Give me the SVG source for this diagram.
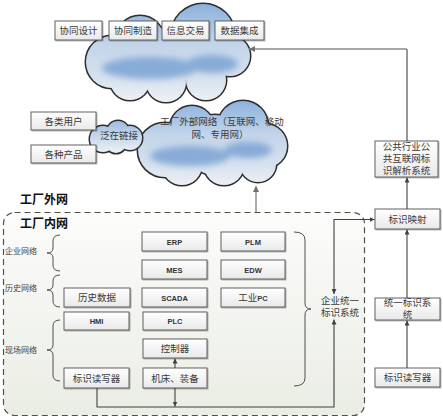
<svg xmlns="http://www.w3.org/2000/svg" width="443" height="419" viewBox="0 0 443 419">
<defs>
<style>
.box{fill:url(#gBox);stroke:#505050;stroke-width:0.9;filter:url(#sh)}
.t{font-family:"Noto Sans CJK SC","Noto Sans",sans-serif;font-size:9.5px;fill:#3a3a3a;text-anchor:middle}
.e{font-family:"Liberation Sans","DejaVu Sans",sans-serif;font-size:7.5px;font-weight:bold;fill:#333;text-anchor:middle}
.lab{font-family:"Noto Sans CJK SC",sans-serif;font-size:8px;fill:#444}
.hd{font-family:"Noto Sans CJK SC",sans-serif;font-size:12px;font-weight:bold;fill:#111}
.ln{fill:none;stroke:#404040;stroke-width:1.1}
.lg{fill:none;stroke:#8a8a8a;stroke-width:1.4}
.br{fill:none;stroke:#505050;stroke-width:1}
.ol{fill:#2e2e2e;stroke:#2e2e2e;stroke-width:3}
</style>
<linearGradient id="gBox" x1="0" y1="0" x2="0" y2="1"><stop offset="0" stop-color="#ffffff"/><stop offset="1" stop-color="#e9e9e9"/></linearGradient>
<linearGradient id="gBg" x1="0" y1="0" x2="0" y2="1"><stop offset="0" stop-color="#fcfcfb"/><stop offset="1" stop-color="#eaede4"/></linearGradient>
<linearGradient id="gC1" gradientUnits="userSpaceOnUse" x1="0" y1="4" x2="0" y2="102"><stop offset="0" stop-color="#8cb1dc"/><stop offset="0.4" stop-color="#c2d4ea"/><stop offset="0.75" stop-color="#d6e1ee"/><stop offset="1" stop-color="#eef1f5"/></linearGradient>
<linearGradient id="gC2" gradientUnits="userSpaceOnUse" x1="0" y1="100" x2="0" y2="186"><stop offset="0" stop-color="#8cb1dc"/><stop offset="0.4" stop-color="#c2d4ea"/><stop offset="0.75" stop-color="#d6e1ee"/><stop offset="1" stop-color="#eef1f5"/></linearGradient>
<linearGradient id="gC3" gradientUnits="userSpaceOnUse" x1="0" y1="120" x2="0" y2="153"><stop offset="0" stop-color="#9ab9df"/><stop offset="0.5" stop-color="#c7d7eb"/><stop offset="1" stop-color="#eef1f5"/></linearGradient>
<filter id="sh" x="-10%" y="-10%" width="130%" height="140%"><feDropShadow dx="1" dy="1" stdDeviation="0.6" flood-color="#000" flood-opacity="0.3"/></filter>
<filter id="bl" x="-30%" y="-50%" width="160%" height="200%"><feGaussianBlur stdDeviation="3"/></filter>
<marker id="ar" viewBox="0 0 10 10" refX="10" refY="5" markerWidth="5" markerHeight="5" markerUnits="userSpaceOnUse" orient="auto-start-reverse"><path d="M0,0 L10,5 L0,10 z" fill="#404040"/></marker>
<marker id="ag" viewBox="0 0 10 10" refX="10" refY="5" markerWidth="6" markerHeight="6" markerUnits="userSpaceOnUse" orient="auto-start-reverse"><path d="M0,0 L10,5 L0,10 z" fill="#707070"/></marker>
</defs>

<!-- factory inner network frame -->
<g id="frame">
<rect x="3.5" y="212.5" width="361" height="203" rx="11" fill="url(#gBg)" stroke="#505050" stroke-width="1.2" stroke-dasharray="6,4"/>
</g>

<!-- clouds -->
<g id="cloud-top">
<g class="ol"><circle cx="112" cy="62" r="26"/><circle cx="140" cy="40" r="24"/><circle cx="203" cy="36" r="32"/><circle cx="230" cy="56" r="20"/><circle cx="130" cy="80" r="20"/><circle cx="166" cy="82" r="20"/><circle cx="206" cy="80" r="20"/><circle cx="165" cy="58" r="30"/></g>
<g fill="url(#gC1)"><circle cx="112" cy="62" r="26"/><circle cx="140" cy="40" r="24"/><circle cx="203" cy="36" r="32"/><circle cx="230" cy="56" r="20"/><circle cx="130" cy="80" r="20"/><circle cx="166" cy="82" r="20"/><circle cx="206" cy="80" r="20"/><circle cx="165" cy="58" r="30"/></g>
<g fill="#6f9bd0" opacity="0.75" filter="url(#bl)"><ellipse cx="150" cy="68" rx="48" ry="11"/><ellipse cx="212" cy="64" rx="26" ry="9"/></g>
</g>

<g id="cloud-ext">
<g class="ol"><circle cx="165" cy="150" r="27"/><circle cx="192" cy="128" r="22"/><circle cx="243" cy="126" r="25"/><circle cx="265" cy="146" r="22"/><circle cx="182" cy="165" r="20"/><circle cx="224" cy="165" r="20"/><circle cx="258" cy="164" r="18"/><circle cx="215" cy="145" r="30"/></g>
<g fill="url(#gC2)"><circle cx="165" cy="150" r="27"/><circle cx="192" cy="128" r="22"/><circle cx="243" cy="126" r="25"/><circle cx="265" cy="146" r="22"/><circle cx="182" cy="165" r="20"/><circle cx="224" cy="165" r="20"/><circle cx="258" cy="164" r="18"/><circle cx="215" cy="145" r="30"/></g>
<g fill="#6f9bd0" opacity="0.75" filter="url(#bl)"><ellipse cx="190" cy="156" rx="40" ry="10"/><ellipse cx="248" cy="150" rx="24" ry="8"/></g>
<text class="t" font-size="8.5"><tspan x="222" y="125">工厂外部网络（互联网、移动</tspan><tspan x="220" y="137.5">网、专用网）</tspan></text>
</g>

<g id="cloud-link">
<g class="ol"><circle cx="103" cy="139" r="13"/><circle cx="118" cy="132" r="11"/><circle cx="130" cy="138" r="12"/><circle cx="116" cy="143" r="10"/></g>
<g fill="url(#gC3)"><circle cx="103" cy="139" r="13"/><circle cx="118" cy="132" r="11"/><circle cx="130" cy="138" r="12"/><circle cx="116" cy="143" r="10"/></g>
<text class="t" x="119" y="139" font-size="9">泛在链接</text>
</g>

<!-- top boxes -->
<g id="n-xtsj"><rect class="box" x="55" y="21" width="47" height="19"/><text class="t" x="78.5" y="34">协同设计</text></g>
<g id="n-xtzz"><rect class="box" x="109" y="21" width="48" height="19"/><text class="t" x="133" y="34">协同制造</text></g>
<g id="n-xxjy"><rect class="box" x="162" y="21" width="47" height="19"/><text class="t" x="185.5" y="34">信息交易</text></g>
<g id="n-sjjc"><rect class="box" x="215" y="21" width="49" height="19"/><text class="t" x="239.5" y="34">数据集成</text></g>

<g id="n-users"><rect class="box" x="31" y="112" width="65" height="18"/><text class="t" x="63.5" y="124.5">各类用户</text></g>
<g id="n-products"><rect class="box" x="31" y="145" width="65" height="18"/><text class="t" x="63.5" y="157.5">各种产品</text></g>

<!-- headings -->
<g id="headings">
<text class="hd" x="20" y="204">工厂外网</text>
<text class="hd" x="20" y="228">工厂内网</text>
<text class="lab" x="5" y="254">企业网络</text>
<text class="lab" x="5" y="291">历史网络</text>
<text class="lab" x="5" y="353">现场网络</text>
</g>

<!-- braces -->
<g id="braces">
<path class="br" d="M60,235 Q53,235 53,241 L53,248 Q53,253 47,253 Q53,253 53,258 L53,265 Q53,271 60,271"/>
<path class="br" d="M60,275 Q53,275 53,281 L53,285 Q53,290 47,290 Q53,290 53,295 L53,301 Q53,307 60,307"/>
<path class="br" d="M60,320 Q53,320 53,326 L53,345 Q53,350 47,350 Q53,350 53,355 L53,375 Q53,381 60,381"/>
<path class="br" d="M294,232 Q305,232 305,240 L305,303 Q305,309 311,309 Q305,309 305,315 L305,378 Q305,386 294,386"/>
</g>

<!-- inner boxes -->
<g id="n-erp"><rect class="box" x="142" y="232" width="65" height="19"/><text class="e" x="174.5" y="244.5">ERP</text></g>
<g id="n-plm"><rect class="box" x="221" y="232" width="64" height="19"/><text class="e" x="253" y="244.5">PLM</text></g>
<g id="n-mes"><rect class="box" x="142" y="260" width="65" height="19"/><text class="e" x="174.5" y="272.5">MES</text></g>
<g id="n-edw"><rect class="box" x="221" y="260" width="64" height="19"/><text class="e" x="253" y="272.5">EDW</text></g>
<g id="n-lssj"><rect class="box" x="64" y="288" width="66" height="19"/><text class="t" x="97" y="301">历史数据</text></g>
<g id="n-scada"><rect class="box" x="142" y="288" width="65" height="19"/><text class="e" x="174.5" y="300.5">SCADA</text></g>
<g id="n-ipc"><rect class="box" x="221" y="288" width="64" height="19"/><text class="t" x="253" y="301" font-size="8.5">工业<tspan font-family="Liberation Sans,sans-serif" font-weight="bold" font-size="7.5">PC</tspan></text></g>
<g id="n-hmi"><rect class="box" x="64" y="312" width="65" height="18"/><text class="e" x="96.5" y="324">HMI</text></g>
<g id="n-plc"><rect class="box" x="143" y="312" width="64" height="18"/><text class="e" x="175" y="324">PLC</text></g>
<g id="n-ctrl"><rect class="box" x="143" y="339" width="64" height="19"/><text class="t" x="175" y="352">控制器</text></g>
<g id="n-rw1"><rect class="box" x="64" y="368" width="65" height="20"/><text class="t" x="96.5" y="381.5">标识读写器</text></g>
<g id="n-mach"><rect class="box" x="143" y="368" width="64" height="20"/><text class="t" x="175" y="381.5">机床、装备</text></g>
<g id="n-qyty"><text class="t" font-size="9.5"><tspan x="340" y="303.5">企业统一</tspan><tspan x="340" y="316">标识系统</tspan></text></g>

<!-- right column -->
<g id="n-ggjx"><rect class="box" x="375" y="141" width="63" height="36"/>
<text class="t" font-size="7.8" x="406.5" y="149.8">公共行业公</text>
<text class="t" font-size="7.8" x="406.5" y="162">共互联网标</text>
<text class="t" font-size="7.8" x="406.5" y="174.2">识解析系统</text></g>
<g id="n-bsys"><rect class="box" x="375" y="209" width="65" height="20"/><text class="t" x="407.5" y="222.5">标识映射</text></g>
<g id="n-tybs"><rect class="box" x="375" y="298" width="65" height="22"/><text class="t" font-size="8.2"><tspan x="407.5" y="305.5">统一标识系</tspan><tspan x="407.5" y="318">统</tspan></text></g>
<g id="n-rw2"><rect class="box" x="375" y="368" width="65" height="19"/><text class="t" x="407.5" y="381">标识读写器</text></g>

<!-- connectors -->
<g id="connectors">
<path class="ln" d="M97,388 V407 H334 V319.5" marker-end="url(#ar)"/>
<path class="ln" d="M175,388 V406.5" marker-end="url(#ar)"/>
<path class="ln" d="M175,368 V358.5" marker-end="url(#ar)"/>
<path class="ln" d="M334,294 V219.5 H374.5" marker-start="url(#ar)" marker-end="url(#ar)"/>
<path class="ln" d="M407,368 V320.5" marker-end="url(#ar)"/>
<path class="ln" d="M407,298 V229.5" marker-end="url(#ar)"/>
<path class="ln" d="M407,209 V177.5" marker-end="url(#ar)"/>
<path class="ln" d="M407,141 V49"/>
<path class="lg" d="M407,49 H249" marker-end="url(#ag)"/>
<path class="lg" d="M256,212 V186" marker-end="url(#ag)"/>
</g>
</svg>
